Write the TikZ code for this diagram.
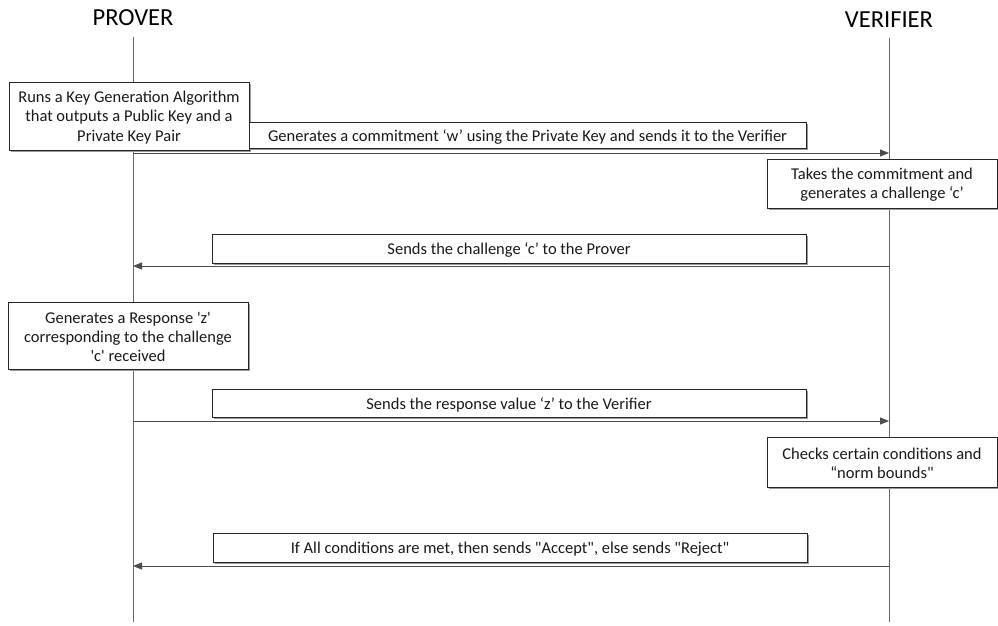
\documentclass[tikz,border=0pt]{standalone}
\usepackage{fontspec}
\setmainfont{Carlito}[Ligatures=TeXOff]
\usetikzlibrary{arrows.meta}
\begin{document}
\begin{tikzpicture}[x=1pt,y=-1pt,
  lifeline/.style={draw=black!60,line width=0.8pt},
  msg/.style={draw=black!70,line width=0.8pt,-{Triangle[length=9pt,width=7pt]}},
  stepbox/.style={draw=black!85,line width=0.9pt,fill=white,inner sep=0pt,
    align=center,font=\fontsize{16.5}{19.3}\selectfont,text=black!90},
  actor/.style={font=\fontsize{24.5}{28}\selectfont,text=black}]
\useasboundingbox (0,0) rectangle (998,626);

% actors and their lifelines
\node[actor] (prover) at (133,18) {PROVER};
\node[actor] (verifier) at (889,20) {VERIFIER};
\coordinate (pTop) at (133,37);
\coordinate (pBot) at (133,622);
\coordinate (vTop) at (889,38);
\coordinate (vBot) at (889,622);
\draw[lifeline] (pTop) -- (pBot);
\draw[lifeline] (vTop) -- (vBot);

% boxes: a light offset shadow, then the box itself
\newcommand{\stepnode}[6]{%
  \fill[black!40] (#2+1.5,#3+1.5) rectangle (#4+1.5,#5+1.5);
  \node[stepbox,minimum width=#4-#2,minimum height=#5-#3] (#1) at ({(#2+#4)/2},{(#3+#5)/2}) {};
  \node[align=center,inner sep=0pt,font=\fontsize{16.5}{19.3}\selectfont,text=black!90]
    (#1-text) at ([yshift=-1.5pt]#1.center) {#6};
}

\stepnode{keygen}{9}{82}{249}{150}{Runs a Key Generation Algorithm\\that outputs a Public Key and a\\Private Key Pair}
\stepnode{commit}{249}{122}{806}{148}{Generates a commitment ‘w’ using the Private Key and sends it to the Verifier}
\stepnode{takes}{767}{159}{997}{208}{Takes the commitment and\\generates a challenge ‘c’}
\stepnode{sendc}{212}{234}{806}{263}{Sends the challenge ‘c’ to the Prover}
\stepnode{resp}{8}{302}{248}{369}{Generates a Response 'z'\\corresponding to the challenge\\'c' received}
\stepnode{sendz}{212}{389}{806}{417}{Sends the response value ‘z’ to the Verifier}
\stepnode{check}{767}{437}{997}{487}{Checks certain conditions and\\“norm bounds"}
\stepnode{final}{213}{533}{807}{562}{If All conditions are met, then sends "Accept", else sends "Reject"}

% messages between the lifelines
\coordinate (m1p) at (133,153); \coordinate (m1v) at (889,153);
\coordinate (m2p) at (133,266); \coordinate (m2v) at (889,266);
\coordinate (m3p) at (133,421); \coordinate (m3v) at (889,421);
\coordinate (m4p) at (133,566); \coordinate (m4v) at (889,566);
\draw[msg] (m1p) -- (m1v);
\draw[msg] (m2v) -- (m2p);
\draw[msg] (m3p) -- (m3v);
\draw[msg] (m4v) -- (m4p);
\end{tikzpicture}
\end{document}
